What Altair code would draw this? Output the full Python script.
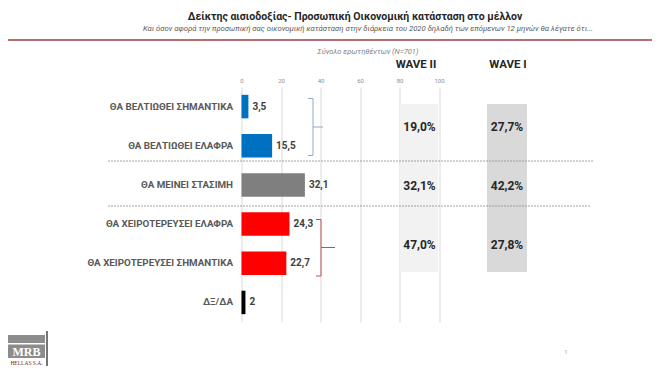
import altair as alt
import pandas as pd

# ---------------- data ----------------
categories = ["ΘΑ ΒΕΛΤΙΩΘΕΙ ΣΗΜΑΝΤΙΚΑ", "ΘΑ ΒΕΛΤΙΩΘΕΙ ΕΛΑΦΡΑ", "ΘΑ ΜΕΙΝΕΙ ΣΤΑΣΙΜΗ",
              "ΘΑ ΧΕΙΡΟΤΕΡΕΥΣΕΙ ΕΛΑΦΡΑ", "ΘΑ ΧΕΙΡΟΤΕΡΕΥΣΕΙ ΣΗΜΑΝΤΙΚΑ", "ΔΞ/ΔΑ"]
values = [3.5, 15.5, 32.1, 24.3, 22.7, 2]
bar_colors = ["#0070C0", "#0070C0", "#7F7F7F", "#FF0000", "#FF0000", "#000000"]
axis_ticks = [0, 20, 40, 60, 80, 100]

wave_groups = ["Θα βελτιωθεί", "Θα μείνει στάσιμη", "Θα χειροτερεύσει"]
wave_group_rows = [[0, 1], [2], [3, 4]]
wave2 = [19.0, 32.1, 47.0]
wave1 = [27.7, 42.2, 27.8]

title_text = "Δείκτης αισιοδοξίας- Προσωπική Οικονομική κατάσταση στο μέλλον"
subtitle_text = ("Και όσον αφορά την προσωπική σας οικονομική κατάσταση στην διάρκεια του 2020 "
                 "δηλαδή των επόμενων 12 μηνών θα λέγατε ότι...")
base_text = "Σύνολο ερωτηθέντων (N=701)"

# ---------------- tables ----------------
bars = pd.DataFrame({
    "cat": categories,
    "value": values,
    "label": [str(v).replace(".", ",") for v in values],
})
waves = pd.DataFrame({
    "group": wave_groups,
    "pos": [sum(r) / len(r) for r in wave_group_rows],
    "w2": [f"{v:.1f}".replace(".", ",") + "%" for v in wave2],
    "w1": [f"{v:.1f}".replace(".", ",") + "%" for v in wave1],
})
one = pd.DataFrame({"k": [0]})

FONT = "Roboto"
# plot origin sits at page (241.5, 87)
OX, OY = 241.5, 87.0


def px(x):
    return x - OX


def py(y):
    return y - OY


def txt(text, x, y, font=FONT, **kw):
    return alt.Chart(one).mark_text(text=text, font=font, **kw).encode(
        x=alt.value(px(x)), y=alt.value(py(y)))


def hline(x1, x2, y, color, width=1, dash=None):
    kw = {"color": color, "strokeWidth": width}
    if dash:
        kw["strokeDash"] = dash
    return alt.Chart(one).mark_rule(**kw).encode(
        x=alt.value(px(x1)), x2=alt.value(px(x2)), y=alt.value(py(y)))


def vline(x, y1, y2, color, width=1):
    return alt.Chart(one).mark_rule(color=color, strokeWidth=width).encode(
        x=alt.value(px(x)), y=alt.value(py(y1)), y2=alt.value(py(y2)))


def box(x1, x2, y1, y2, color):
    return alt.Chart(one).mark_rect(color=color).encode(
        x=alt.value(px(x1)), x2=alt.value(px(x2)),
        y=alt.value(py(y1)), y2=alt.value(py(y2)))


band = alt.Scale(domain=categories, paddingInner=0.4, paddingOuter=0.2)
xscale = alt.Scale(domain=[0, 100], nice=False)
x_axis = alt.Axis(orient="top", values=axis_ticks, grid=True, gridColor="#D9D9D9",
                  gridWidth=1, domain=False, ticks=False, labelFontSize=6,
                  labelColor="#8C8C8C", labelPadding=4, labelFont=FONT, title=None,
                  labelOverlap=False, labelFlush=False)

# wave boxes (behind)
wave2_box = alt.Chart(one).mark_rect(color="#F2F2F2").encode(
    x=alt.X(datum=80.4, scale=xscale, axis=x_axis), x2=alt.X2(datum=99.6),
    y=alt.value(py(104)), y2=alt.value(py(272)))
wave1_box = box(487, 527, 104, 272, "#D9D9D9")

bar_layer = alt.Chart(bars).mark_bar().encode(
    x=alt.X("value:Q", scale=xscale, axis=x_axis),
    y=alt.Y("cat:N", sort=categories, scale=band,
            axis=alt.Axis(domain=False, ticks=False, labelFontSize=9.8, labelFontWeight="bold",
                          labelColor="#595959", labelPadding=9, labelFont=FONT, title=None,
                          labelLimit=300)),
    color=alt.Color("cat:N", scale=alt.Scale(domain=categories, range=bar_colors), legend=None),
)
value_labels = alt.Chart(bars).mark_text(
    align="left", baseline="middle", dx=4, font=FONT, fontSize=10, fontWeight="bold",
    color="#404040").encode(
    x=alt.X("value:Q", scale=xscale, axis=x_axis),
    y=alt.Y("cat:N", sort=categories, scale=band, axis=None),
    text="label:N",
)

wy = alt.Y("pos:Q", scale=alt.Scale(domain=[-0.5, 5.5], reverse=True, nice=False, zero=False), axis=None)
wave2_labels = alt.Chart(waves).mark_text(
    font=FONT, fontSize=12, fontWeight="bold", color="#262626", dy=1).encode(
    x=alt.value(px(419.5)), y=wy, text="w2:N")
wave1_labels = alt.Chart(waves).mark_text(
    font=FONT, fontSize=12, fontWeight="bold", color="#262626", dy=1).encode(
    x=alt.value(px(507)), y=wy, text="w1:N")

blue_br = "#8EAACC"
red_br = "#C0504D"
decor = [
    # header
    txt(title_text, 355, 17, fontSize=10.5, fontWeight="bold", color="#262626"),
    txt(subtitle_text, 368, 29, fontSize=7.7, fontStyle="italic", color="#595959"),
    hline(0, 660, 40, "#A33A3F", 1.3),
    txt(base_text, 368, 52, fontSize=7.5, fontStyle="italic", color="#7F7F7F"),
    txt("WAVE II", 416, 65, fontSize=11.5, fontWeight="bold", color="#262626"),
    txt("WAVE I", 508, 65, fontSize=11.5, fontWeight="bold", color="#262626"),
    # separators
    hline(108, 593, 161, "#8C8C8C", 0.8, [2, 1]),
    hline(108, 590, 206, "#8C8C8C", 0.8, [2, 1]),
    # blue brace
    vline(313, 98.5, 155.5, blue_br, 1),
    hline(308, 313, 98.5, blue_br, 1),
    hline(308, 313, 155.5, blue_br, 1),
    hline(313, 323, 127, blue_br, 1),
    # red brace
    vline(321, 219.5, 276, red_br, 1),
    hline(316, 321, 219.5, red_br, 1),
    hline(316, 321, 276, red_br, 1),
    hline(321, 335, 247.5, red_br, 1),
    # logo
    box(8, 45, 335, 343, "#8C8C8C"),
    box(8, 45, 344.5, 358, "#8C8C8C"),
    txt("MRB", 26.5, 351.5, font="Liberation Serif", fontSize=12, fontWeight="bold", color="#FFFFFF"),
    txt("HELLAS S.A.", 26.5, 362.5, font="Liberation Serif", fontSize=5.5, color="#7B1F2A"),
    vline(47, 331, 366, "#1A1A1A", 1.2),
    # page number
    txt("1", 566, 352, fontSize=6, color="#A6A6A6"),
]

chart = alt.layer(
    wave2_box, wave1_box, bar_layer, value_labels, wave2_labels, wave1_labels, *decor
).resolve_scale(y="independent").properties(
    width=197.5, height=235,
    padding={"left": OX - 8, "top": OY - 8, "right": 644 - (OX - 8) - 197.5,
             "bottom": 358 - (OY - 8) - 235},
    autosize=alt.AutoSizeParams(type="none"),
).configure_view(stroke=None)

chart.save("out.html", embed_options={"renderer": "svg", "actions": False})
